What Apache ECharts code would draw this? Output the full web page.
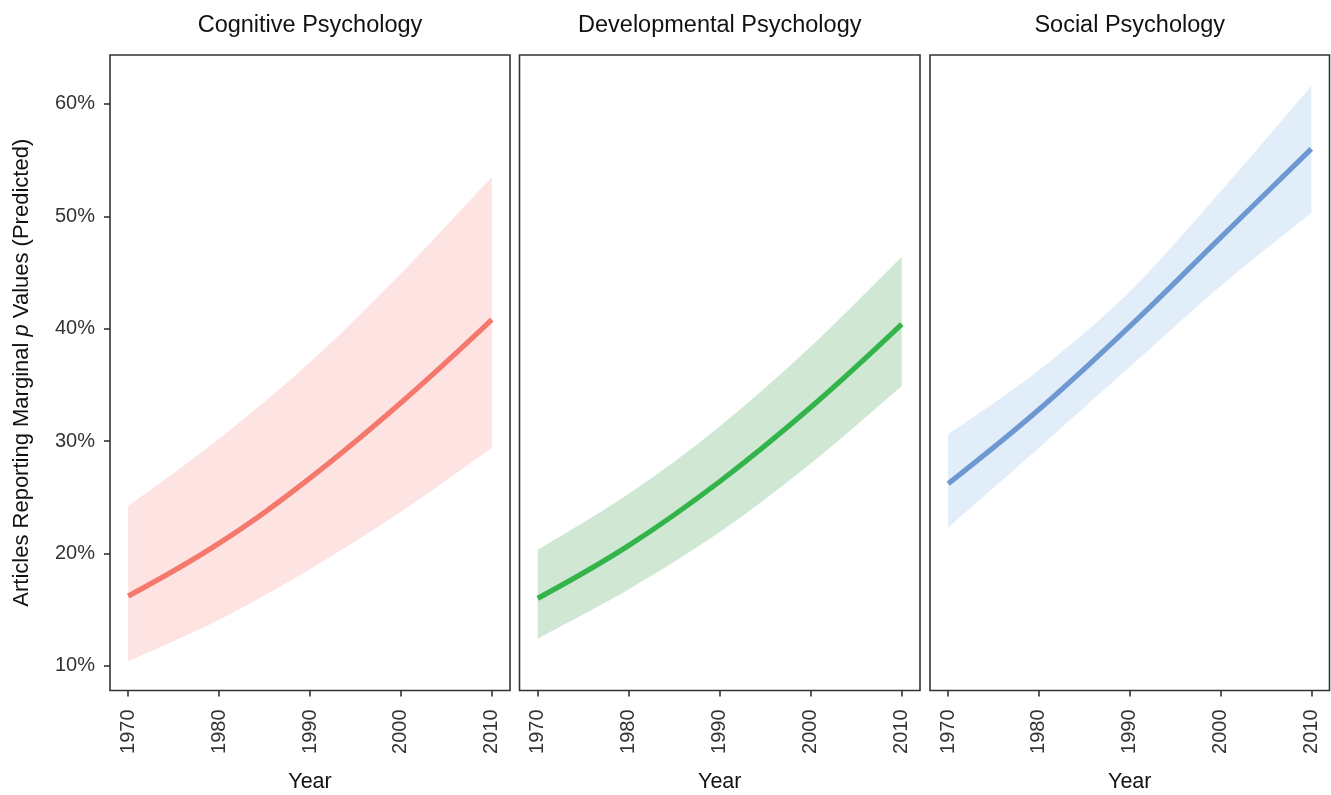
<!DOCTYPE html>
<html>
<head>
<meta charset="utf-8">
<script src="https://cdn.jsdelivr.net/npm/echarts@6/dist/echarts.min.js"></script>
<style>
html,body{margin:0;padding:0;background:#fff;}
#chart{width:1331px;height:795px;}
</style>
</head>
<body>
<div id="chart"></div>
<script>
const panelTitles = ['Cognitive Psychology', 'Developmental Psychology', 'Social Psychology'];
const years = [1970, 1980, 1990, 2000, 2010];
const xTicks = [1970, 1980, 1990, 2000, 2010];
const yTicks = [10, 20, 30, 40, 50, 60];

const cogFit   = [16.2, 20.9, 26.7, 33.4, 40.8];
const cogUpper = [24.2, 30.2, 37.0, 44.9, 53.5];
const cogLower = [10.4, 14.1, 18.6, 23.7, 29.4];

const devFit   = [16.0, 20.7, 26.4, 33.0, 40.4];
const devUpper = [20.3, 25.3, 31.3, 38.4, 46.4];
const devLower = [12.4, 16.8, 21.9, 28.0, 34.9];

const socFit   = [26.2, 32.8, 40.2, 48.1, 56.0];
const socUpper = [30.6, 36.3, 43.3, 52.2, 61.6];
const socLower = [22.3, 29.4, 36.6, 43.8, 50.3];

const FONT = "'Liberation Sans', Arial, Helvetica, sans-serif";
const panels = [
  {fit: cogFit, up: cogUpper, lo: cogLower, line: '#F4786C', band: '#FDE3E2', left: 110, width: 400},
  {fit: devFit, up: devUpper, lo: devLower, line: '#33B44A', band: '#CFE7D3', left: 519.5, width: 400.5},
  {fit: socFit, up: socUpper, lo: socLower, line: '#6E98D2', band: '#E1EDF9', left: 930, width: 399.5}
];

// Catmull-Rom through pixel points -> SVG cubic segments
function curveSegs(pts) {
  let d = '';
  for (let i = 0; i < pts.length - 1; i++) {
    const p0 = pts[i - 1] || pts[i], p1 = pts[i], p2 = pts[i + 1], p3 = pts[i + 2] || pts[i + 1];
    const c1 = [p1[0] + (p2[0] - p0[0]) / 6, p1[1] + (p2[1] - p0[1]) / 6];
    const c2 = [p2[0] - (p3[0] - p1[0]) / 6, p2[1] - (p3[1] - p1[1]) / 6];
    d += ' C' + c1[0] + ' ' + c1[1] + ' ' + c2[0] + ' ' + c2[1] + ' ' + p2[0] + ' ' + p2[1];
  }
  return d;
}

const grids = [], xAxes = [], yAxes = [], series = [], graphics = [];
panels.forEach((p, i) => {
  grids.push({left: p.left, top: 55, width: p.width, height: 635.5, show: true, z: 0,
    outerBoundsMode: 'none',
    borderColor: '#333', borderWidth: 1.6, backgroundColor: 'transparent', containLabel: false});
  xAxes.push({type: 'value', gridIndex: i, min: 1968, max: 2012,
    axisLine: {show: false}, splitLine: {show: false},
    axisTick: {show: true, length: 6, lineStyle: {color: '#333', width: 1.6}, customValues: xTicks},
    axisLabel: {show: true, rotate: 90, margin: 19, color: '#333', fontFamily: FONT, fontSize: 20, customValues: xTicks,
      formatter: v => String(v)},
    name: 'Year', nameLocation: 'middle', nameGap: 81,
    nameTextStyle: {color: '#111', fontFamily: FONT, fontSize: 21.5}});
  yAxes.push({type: 'value', gridIndex: i, min: 7.8, max: 64.35,
    axisLine: {show: false}, splitLine: {show: false},
    axisTick: {show: i === 0, length: 6, lineStyle: {color: '#333', width: 1.6}, customValues: yTicks},
    axisLabel: {show: i === 0, margin: 15, color: '#333', fontFamily: FONT, fontSize: 20, customValues: yTicks,
      formatter: v => v + '%'},
    name: i === 0 ? 'Articles Reporting Marginal {i|p} Values (Predicted)' : '',
    nameLocation: 'middle', nameGap: 77, nameRotate: 90,
    nameTextStyle: {color: '#111', fontFamily: FONT, fontSize: 22,
      rich: {i: {fontStyle: 'italic', fontFamily: FONT, fontSize: 22, color: '#111'}}}});
  const bandData = years.map((y, k) => [y, p.lo[k], p.up[k]]);
  series.push({type: 'custom', xAxisIndex: i, yAxisIndex: i, z: 3, silent: true,
    encode: {x: 0, y: [1, 2]},
    data: bandData,
    renderItem: function (params, api) {
      if (params.dataIndex !== 0) return null;
      const upPts = bandData.map(r => api.coord([r[0], r[2]]));
      const loPts = bandData.map(r => api.coord([r[0], r[1]])).reverse();
      let d = 'M' + upPts[0][0] + ' ' + upPts[0][1] + curveSegs(upPts);
      d += ' L' + loPts[0][0] + ' ' + loPts[0][1] + curveSegs(loPts) + ' Z';
      return {type: 'path', shape: {pathData: d}, style: {fill: p.band, stroke: null}};
    }});
  series.push({type: 'line', xAxisIndex: i, yAxisIndex: i, smooth: 0.4, symbol: 'none', silent: true,
    lineStyle: {color: p.line, width: 5.2, cap: 'butt'}, z: 5,
    data: years.map((y, k) => [y, p.fit[k]])});
  graphics.push({type: 'text', x: p.left + p.width / 2, y: 26, silent: true,
    style: {text: panelTitles[i], font: '23.5px ' + FONT, fill: '#111', textAlign: 'center', textVerticalAlign: 'middle'}});
});

const chart = echarts.init(document.getElementById('chart'), null, {renderer: 'canvas'});
chart.setOption({
  animation: false,
  backgroundColor: '#fff',
  grid: grids, xAxis: xAxes, yAxis: yAxes, series: series, graphic: graphics
});
</script>
</body>
</html>
